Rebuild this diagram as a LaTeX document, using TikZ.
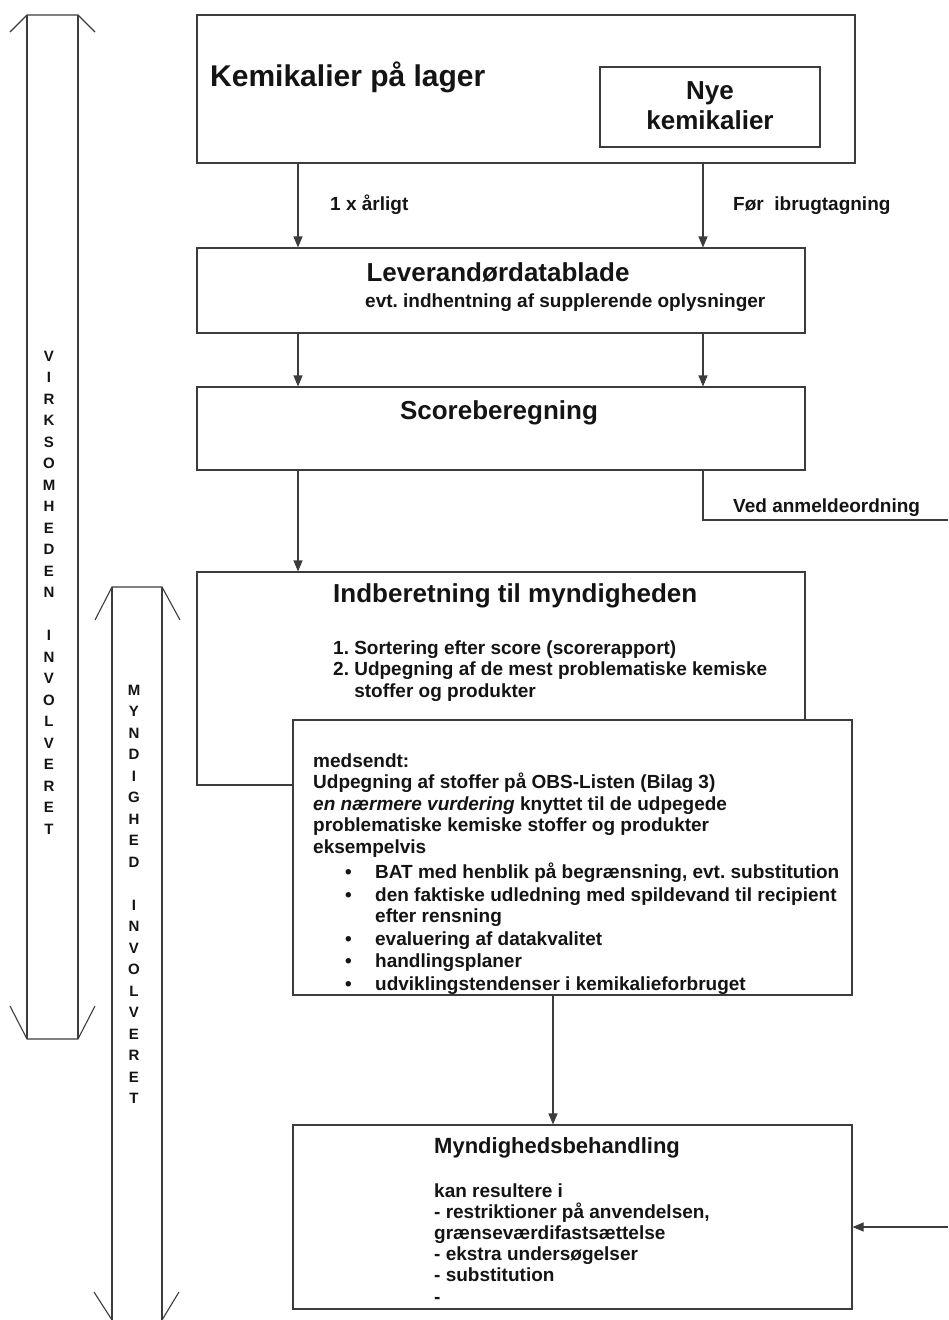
\documentclass[tikz,border=0pt]{standalone}
\usepackage{fontspec}
\setmainfont{Liberation Sans}
\usetikzlibrary{arrows.meta}
\definecolor{linec}{HTML}{3C3C3C}
\definecolor{txtc}{HTML}{141414}
\frenchspacing
\begin{document}
\begin{tikzpicture}[x=1pt,y=-1pt,
  box/.style={draw=linec, line width=1.1pt, fill=white, rectangle, inner sep=0pt},
  arr/.style={draw=linec, line width=1.1pt, -{Triangle[length=11pt,width=9pt]}},
  ln/.style={draw=linec, line width=1.1pt},
  body/.style={inner sep=0pt, text=txtc, font=\bfseries\fontsize{19}{21.5}\selectfont, align=left},
  head/.style={inner sep=0pt, text=txtc, font=\bfseries\fontsize{26}{30}\selectfont, align=center},
  vert/.style={inner sep=0pt, text=txtc, font=\bfseries\fontsize{15}{21.5}\selectfont, align=center}]
\useasboundingbox (0,0) rectangle (948,1320);
\fill[white] (0,0) rectangle (948,1320);

% big vertical double arrows
\draw[ln, line join=miter] (10,32) -- (27,15) -- (78,15) -- (95,32);
\draw[ln] (27,15) -- (27,1039);
\draw[ln] (78,15) -- (78,1039);
\draw[ln, line join=miter] (10,1006) -- (27,1039) -- (78,1039) -- (95,1006);
\node[vert, anchor=base] (v1) at (49,834) {V\\I\\R\\K\\S\\O\\M\\H\\E\\D\\E\\N\\[21.5pt]I\\N\\V\\O\\L\\V\\E\\R\\E\\T};

\draw[ln, line join=miter] (95,620) -- (112,587) -- (162,587) -- (180,620);
\draw[ln] (112,587) -- (112,1320);
\draw[ln] (162,587) -- (162,1320);
\draw[ln] (94,1292) -- (112,1320);
\draw[ln] (179,1292) -- (162,1320);
\node[vert, anchor=base] (v2) at (134,1103.5) {M\\Y\\N\\D\\I\\G\\H\\E\\D\\[21.5pt]I\\N\\V\\O\\L\\V\\E\\R\\E\\T};

% boxes
\node[box, minimum width=658pt, minimum height=148pt] (b1) at (526,89) {};
\node[box, minimum width=220pt, minimum height=80pt] (nye) at (710,107) {};
\node[box, minimum width=608pt, minimum height=85pt] (b2) at (501,290.5) {};
\node[box, minimum width=608pt, minimum height=83pt] (b3) at (501,428.5) {};
\node[box, minimum width=608pt, minimum height=213pt] (b4) at (501,678.5) {};
\node[box, minimum width=559pt, minimum height=275pt] (b5) at (572.5,857.5) {};
\node[box, minimum width=559pt, minimum height=184pt] (b6) at (572.5,1217) {};

% texts
\node[inner sep=0pt, text=txtc, font=\bfseries\fontsize{30}{34}\selectfont, anchor=base west] (t1) at (210,86) {Kemikalier på lager};
\node[head, anchor=base] (tnye) at (710,129) {Nye\\kemikalier};
\node[body, anchor=base west] (l1) at (330,210) {1 x årligt};
\node[body, anchor=base west] (l2) at (733,210) {Før~~ibrugtagning};
\node[head, anchor=base] (t2) at (498,281) {Leverandørdatablade};
\node[body, anchor=base west] (t2b) at (365,307) {evt. indhentning af supplerende oplysninger};
\node[head, anchor=base] (t3) at (499,419) {Scoreberegning};
\node[body, anchor=base west] (ved) at (733,512) {Ved anmeldeordning};
\node[head, anchor=base west] (t4) at (333,602) {Indberetning til myndigheden};
\node[body, anchor=base west] (t4b) at (333,697) {1. Sortering efter score (scorerapport)\\2. Udpegning af de mest problematiske kemiske\\\phantom{2. }stoffer og produkter};
\node[body, anchor=base west] (t5) at (313,990) {medsendt:\\
Udpegning af stoffer på OBS-Listen (Bilag 3)\\
\textit{en nærmere vurdering} knyttet til de udpegede\\
problematiske kemiske stoffer og produkter\\
eksempelvis\\[4pt]
\hspace*{32pt}\makebox[30pt][l]{•}BAT med henblik på begrænsning, evt. substitution\\[1pt]
\hspace*{32pt}\makebox[30pt][l]{•}den faktiske udledning med spildevand til recipient\\
\hspace*{62pt}efter rensning\\[1pt]
\hspace*{32pt}\makebox[30pt][l]{•}evaluering af datakvalitet\\[1pt]
\hspace*{32pt}\makebox[30pt][l]{•}handlingsplaner\\[1pt]
\hspace*{32pt}\makebox[30pt][l]{•}udviklingstendenser i kemikalieforbruget};
\node[inner sep=0pt, text=txtc, font=\bfseries\fontsize{22}{26}\selectfont, anchor=base west] (t6) at (434,1153) {Myndighedsbehandling};
\node[body, font=\bfseries\fontsize{19}{21.2}\selectfont, anchor=base west] (t6b) at (434,1303) {kan resultere i\\- restriktioner på anvendelsen,\\grænseværdifastsættelse\\- ekstra undersøgelser\\- substitution\\-};

% connectors
\coordinate (cx1) at (298,0);
\coordinate (cx2) at (703,0);
\coordinate (cx3) at (553,0);
\coordinate (vedend) at (948,520);
\coordinate (inR) at (948,1227);
\draw[arr] (cx1 |- b1.south) -- (cx1 |- b2.north);
\draw[arr] (cx2 |- b1.south) -- (cx2 |- b2.north);
\draw[arr] (cx1 |- b2.south) -- (cx1 |- b3.north);
\draw[arr] (cx2 |- b2.south) -- (cx2 |- b3.north);
\draw[arr] (cx1 |- b3.south) -- (cx1 |- b4.north);
\draw[ln] (cx2 |- b3.south) |- (vedend);
\draw[arr] (cx3 |- b5.south) -- (cx3 |- b6.north);
\draw[arr] (inR) -- (inR -| b6.east);
\end{tikzpicture}
\end{document}
